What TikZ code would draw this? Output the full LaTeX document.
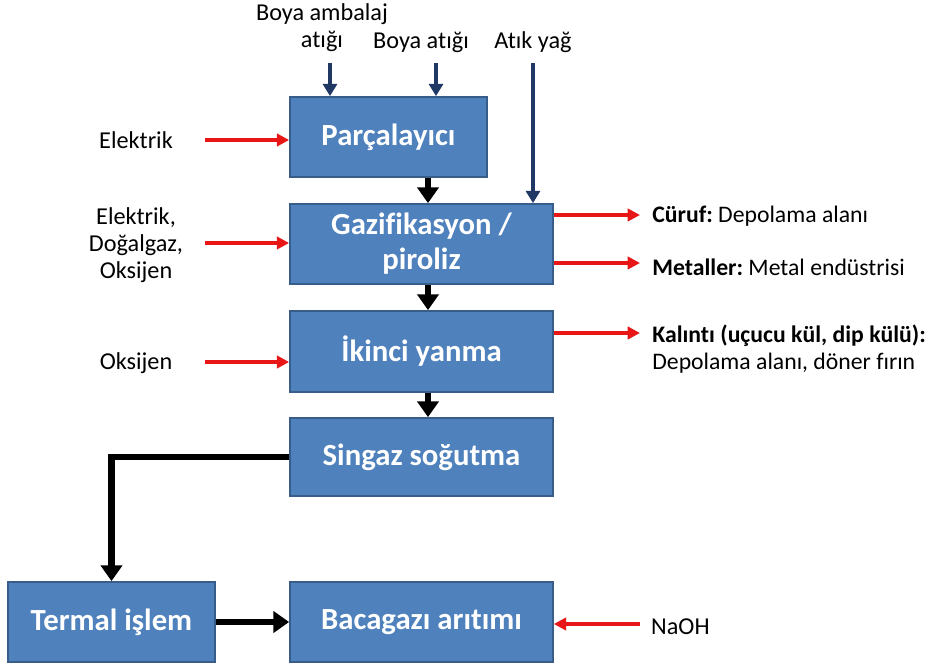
\documentclass[tikz,border=0pt]{standalone}
\usepackage{fontspec}
\setmainfont[Ligatures=NoCommon]{Carlito}
\usetikzlibrary{arrows.meta}
\definecolor{box1}{RGB}{79,129,189}
\definecolor{boxline}{RGB}{56,93,138}
\definecolor{navy1}{RGB}{31,56,100}
\definecolor{red1}{RGB}{232,22,22}
\frenchspacing

\begin{document}
\begin{tikzpicture}[x=0.02cm, y=-0.02cm,
  proc/.style={rectangle, fill=box1, draw=boxline, line width=1pt, text=white,
    font=\bfseries\fontsize{17.5}{20}\selectfont, align=center, inner sep=0pt},
  lbl/.style={font=\fontsize{13.8}{15.5}\selectfont, align=center},
  outlbl/.style={font=\fontsize{13.5}{15.8}\selectfont, align=left, anchor=west, inner sep=0pt},
  flow/.style={line width=3.8pt, -{Triangle[length=9pt,width=12pt]}},
  feed/.style={navy1, line width=1.8pt, -{Triangle[length=7pt,width=8pt]}},
  aux/.style={red1, line width=1.8pt, -{Triangle[length=7pt,width=7pt]}}]
  \useasboundingbox (0,0) rectangle (931,666);

  % process boxes
  \node[proc, minimum width=3.94cm, minimum height=1.6cm] (parc) at (388.5,137) {Parçalayıcı};
  \node[proc, minimum width=5.26cm, minimum height=1.6cm] (gaz) at (421.5,244) {Gazifikasyon /\\piroliz};
  \node[proc, minimum width=5.26cm, minimum height=1.62cm] (ikinci) at (421.5,351.5) {İkinci yanma};
  \node[proc, minimum width=5.26cm, minimum height=1.56cm] (singaz) at (421.5,457) {Singaz soğutma};
  \node[proc, minimum width=4.14cm, minimum height=1.6cm] (termal) at (111.5,622) {Termal işlem};
  \node[proc, minimum width=5.26cm, minimum height=1.6cm] (baca) at (421.5,622) {Bacagazı arıtımı};

  % main flow
  \foreach \from/\to in {parc/gaz, gaz/ikinci, ikinci/singaz}
    \draw[flow] ([xshift=0.13cm]\to.north |- \from.south) -- ([xshift=0.13cm]\to.north);
  \draw[flow] (singaz.west) -| (termal.north);
  \draw[flow] (termal.east) -- (baca.west);

  % waste inputs
  \node[lbl] (ambalaj) at (322,28) {Boya ambalaj\\atığı};
  \node[lbl] (boya) at (421,42) {Boya atığı};
  \node[lbl] (yag) at (533,42) {Atık yağ};
  \coordinate (f1) at (330,63);
  \coordinate (f2) at (436,63);
  \coordinate (f3) at (533,63);
  \draw[feed] (f1) -- (f1 |- parc.north);
  \draw[feed] (f2) -- (f2 |- parc.north);
  \draw[feed] (f3) -- (f3 |- gaz.north);

  % energy inputs
  \node[lbl] (el1) at (136,140) {Elektrik};
  \node[lbl] (el2) at (136,245) {Elektrik,\\Doğalgaz,\\Oksijen};
  \node[lbl] (oks) at (136,363) {Oksijen};
  \node[lbl, anchor=west] (naoh) at (645,627) {NaOH};
  \coordinate (e1) at (205,140);
  \coordinate (e2) at (205,243);
  \coordinate (e3) at (205,362);
  \coordinate (e4) at (640,624);
  \draw[aux] (e1) -- (e1 -| parc.west);
  \draw[aux] (e2) -- (e2 -| gaz.west);
  \draw[aux] (e3) -- (e3 -| ikinci.west);
  \draw[aux] (e4) -- (e4 -| baca.east);

  % outputs
  \node[outlbl] (curuf) at (652,216) {\textbf{Cüruf:} Depolama alanı};
  \node[outlbl] (metal) at (652,267) {\textbf{Metaller:} Metal endüstrisi};
  \node[outlbl] (kalinti) at (652,349) {\textbf{Kalıntı (uçucu kül, dip külü):}\\Depolama alanı, döner fırın};
  \coordinate (o1) at (640,215);
  \coordinate (o2) at (640,263);
  \coordinate (o3) at (640,333);
  \draw[aux] (o1 -| gaz.east) -- (o1);
  \draw[aux] (o2 -| gaz.east) -- (o2);
  \draw[aux] (o3 -| ikinci.east) -- (o3);
\end{tikzpicture}
\end{document}
